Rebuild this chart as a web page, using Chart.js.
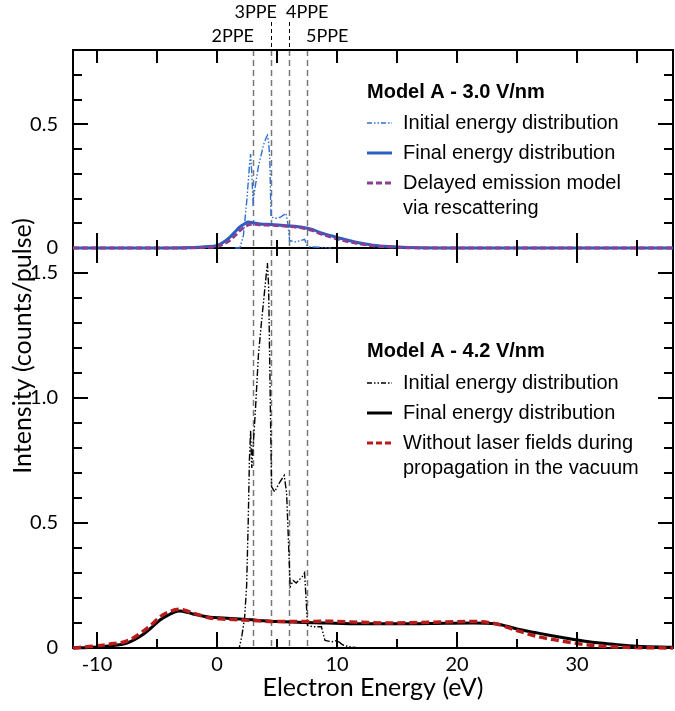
<!DOCTYPE html>
<html>
<head>
<meta charset="utf-8">
<script src="https://cdn.jsdelivr.net/npm/chart.js@4.4.1/dist/chart.umd.min.js"></script>
<style>
  html, body { margin: 0; padding: 0; background: #fff; }
  #wrap { width: 675px; height: 711px; }
</style>
</head>
<body>
<div id="wrap"><canvas id="chart" width="675" height="711"></canvas></div>
<script>
// axis ranges and ticks
const xMin = -12, xMax = 38;
const xLabelTicks = [-10, 0, 10, 20, 30];
const xMinorTicks = [-10, -5, 0, 5, 10, 15, 20, 25, 30, 35];
const topMax = 0.8, botMax = 1.6;
const topLabelTicks = [0, 0.5];
const topMinorTicks = [0.1, 0.2, 0.3, 0.4, 0.6, 0.7];
const botLabelTicks = [0, 0.5, 1.0, 1.5];
const botMinorTicks = [0.1, 0.2, 0.3, 0.4, 0.6, 0.7, 0.8, 0.9, 1.1, 1.2, 1.3, 1.4];

// multiphoton orders (photon energy 1.5 eV)
const ppeLabels = ['2PPE', '3PPE', '4PPE', '5PPE'];
const ppeEnergy = [3.0, 4.5, 6.0, 7.5];

// top panel: Model A - 3.0 V/nm
const topInitX = [1.5, 1.9, 2.2, 2.5, 2.7, 2.8, 2.9, 3.0, 3.1, 3.45, 3.7, 3.9, 4.1, 4.2, 4.3, 4.4, 4.5, 4.9, 5.3, 5.6, 5.75, 5.9, 6.05, 6.5, 7.0, 7.3, 7.5, 7.7, 8.5, 9.5];
const topInitY = [0, 0, 0.05, 0.2, 0.33, 0.38, 0.3, 0.19, 0.22, 0.33, 0.38, 0.42, 0.445, 0.455, 0.43, 0.36, 0.125, 0.12, 0.125, 0.135, 0.14, 0.1, 0.03, 0.025, 0.03, 0.035, 0.01, 0.005, 0.003, 0];
const topFinalX = [-12, -4, -2, -1, 0, 0.5, 1.1, 1.5, 1.9, 2.3, 2.6, 3.0, 3.6, 4.5, 5.8, 7.2, 8.0, 8.6, 9.3, 10, 11, 11.9, 13, 14.7, 16, 20, 38];
const topFinalY = [0, 0, 0.002, 0.005, 0.01, 0.022, 0.045, 0.065, 0.085, 0.098, 0.105, 0.102, 0.097, 0.095, 0.09, 0.083, 0.074, 0.062, 0.052, 0.043, 0.03, 0.02, 0.011, 0.005, 0.002, 0, 0];
const topDelayX = [-12, -4, -2, -1, 0, 0.5, 1.1, 1.5, 1.9, 2.3, 2.7, 3.0, 3.6, 4.5, 5.8, 7.2, 8.0, 8.6, 9.3, 10, 11, 12, 13, 14.7, 16, 20, 38];
const topDelayY = [0, 0, 0.001, 0.003, 0.006, 0.015, 0.032, 0.05, 0.07, 0.085, 0.095, 0.096, 0.094, 0.092, 0.088, 0.08, 0.07, 0.058, 0.047, 0.037, 0.025, 0.016, 0.009, 0.004, 0.001, 0, 0];

// bottom panel: Model A - 4.2 V/nm
const botInitX = [1.5, 1.85, 2.06, 2.3, 2.47, 2.6, 2.7, 2.8, 2.9, 3.0, 3.2, 3.45, 3.7, 3.95, 4.2, 4.3, 4.5, 4.55, 4.8, 5.25, 5.6, 5.8, 6.1, 6.35, 6.6, 7.2, 7.3, 7.55, 8.0, 8.7, 9.0, 9.6, 10.0, 10.5, 11, 12];
const botInitY = [0, 0, 0.045, 0.12, 0.25, 0.5, 0.75, 0.87, 0.72, 0.8, 0.95, 1.17, 1.3, 1.42, 1.54, 1.45, 0.79, 0.645, 0.625, 0.665, 0.69, 0.62, 0.245, 0.27, 0.26, 0.29, 0.3, 0.09, 0.085, 0.085, 0.03, 0.025, 0.03, 0.012, 0.005, 0];
const botFinalX = [-12, -10.3, -9, -7.5, -6.2, -5.5, -4.75, -4, -3.6, -3.1, -2.5, -2.0, -1.2, -0.6, 0.5, 2.2, 5, 9.1, 11.9, 16, 19, 21.4, 23.2, 25, 26.5, 27.8, 29, 30.3, 31.5, 32.8, 35, 38];
const botFinalY = [0, 0.003, 0.008, 0.02, 0.053, 0.08, 0.112, 0.133, 0.143, 0.148, 0.143, 0.136, 0.128, 0.123, 0.12, 0.115, 0.106, 0.1, 0.097, 0.097, 0.099, 0.1, 0.097, 0.076, 0.062, 0.05, 0.04, 0.03, 0.022, 0.016, 0.007, 0.003];
const botNoLaserX = [-12, -10.3, -9, -7.5, -6.2, -5.3, -4.75, -4.0, -3.1, -2.5, -2.0, -1.2, -0.6, 0.5, 2.2, 5, 7, 9.1, 11.9, 14.2, 18, 21.4, 23.2, 25, 26.7, 28.5, 30.3, 32, 34, 36, 38];
const botNoLaserY = [0, 0.007, 0.015, 0.028, 0.065, 0.1, 0.125, 0.145, 0.155, 0.148, 0.14, 0.128, 0.12, 0.116, 0.112, 0.106, 0.106, 0.107, 0.103, 0.1, 0.103, 0.106, 0.097, 0.07, 0.046, 0.03, 0.016, 0.007, 0.003, 0.001, 0];

const BLUE = '#2a5fc0', BLUE_LIGHT = '#2f6fd4', PURPLE = '#8a3f92', RED = '#b81b1b';
const DASHDOT = [7, 2, 1.5, 2, 1.5, 2];
const AXIS_FONT = "Lato, 'Liberation Sans', sans-serif";
const LEG_FONT = "'Liberation Sans', Arial, sans-serif";

function pts(xs, ys) {
  return xs.map((x, i) => ({ x: x, y: ys[i] }));
}

function line(label, xs, ys, axis, color, width, dash, smooth) {
  return {
    label: label,
    data: pts(xs, ys),
    yAxisID: axis,
    borderColor: color,
    borderWidth: width,
    borderDash: dash,
    pointRadius: 0,
    fill: false,
    clip: false,
    cubicInterpolationMode: smooth ? 'monotone' : 'default',
    tension: 0
  };
}

const legends = [
  { x: 367, y: 92, title: 'Model A - 3.0 V/nm', items: [
    { lines: ['Initial energy distribution'], color: BLUE_LIGHT, width: 1.5, dash: [5, 2, 1.5, 2, 1.5, 2], y: 123 },
    { lines: ['Final energy distribution'], color: BLUE, width: 3, dash: [], y: 153 },
    { lines: ['Delayed emission model', 'via rescattering'], color: PURPLE, width: 3, dash: [6, 3], y: 183 }
  ]},
  { x: 367, y: 351, title: 'Model A - 4.2 V/nm', items: [
    { lines: ['Initial energy distribution'], color: '#000', width: 1.5, dash: [5, 2, 1.5, 2, 1.5, 2], y: 383 },
    { lines: ['Final energy distribution'], color: '#000', width: 3, dash: [], y: 413 },
    { lines: ['Without laser fields during', 'propagation in the vacuum'], color: RED, width: 3, dash: [6, 3], y: 443 }
  ]}
];

function seg(ctx, x1, y1, x2, y2) {
  ctx.beginPath();
  ctx.moveTo(x1, y1);
  ctx.lineTo(x2, y2);
  ctx.stroke();
}

const framePlugin = {
  id: 'frame',
  beforeDatasetsDraw(chart) {
    const ctx = chart.ctx, a = chart.chartArea;
    const xs = chart.scales.x, yt = chart.scales.yTop;
    const mid = yt.bottom;
    ctx.save();
    // photon order lines
    ctx.strokeStyle = '#777';
    ctx.lineWidth = 1.5;
    ctx.setLineDash([6, 4]);
    ppeEnergy.forEach(e => {
      const px = Math.round(xs.getPixelForValue(e)) + 0.5;
      seg(ctx, px, a.top, px, a.bottom);
    });
    ctx.strokeStyle = '#000';
    ctx.lineWidth = 1;
    ctx.setLineDash([4, 3]);
    [1, 2].forEach(i => {
      const px = Math.round(xs.getPixelForValue(ppeEnergy[i])) + 0.5;
      seg(ctx, px, 22, px, a.top);
    });
    ctx.setLineDash([]);
    ctx.fillStyle = '#000';
    ctx.font = '18px ' + AXIS_FONT;
    ctx.textBaseline = 'middle';
    const lx = ppeEnergy.map(e => xs.getPixelForValue(e));
    ctx.textAlign = 'right';
    ctx.fillText(ppeLabels[0], lx[0] + 1, 36);
    ctx.fillText(ppeLabels[1], lx[1] + 6, 12);
    ctx.textAlign = 'left';
    ctx.fillText(ppeLabels[2], lx[2] - 3, 12);
    ctx.fillText(ppeLabels[3], lx[3] - 1, 36);

    // frame
    ctx.strokeStyle = '#000';
    ctx.lineWidth = 2;
    ctx.strokeRect(a.left, a.top, a.right - a.left, a.bottom - a.top);
    seg(ctx, a.left, mid, a.right, mid);
    ctx.restore();
  },
  afterDatasetsDraw(chart) {
    const ctx = chart.ctx, a = chart.chartArea;
    const xs = chart.scales.x, yt = chart.scales.yTop, yb = chart.scales.yBot;
    const mid = yt.bottom;
    ctx.save();
    ctx.setLineDash([]);
    ctx.strokeStyle = '#000';
    ctx.lineWidth = 2;
    // x tick marks, inward
    for (const v of xMinorTicks) {
      const px = Math.round(xs.getPixelForValue(v));
      const major = Math.abs(v) % 10 === 0;
      const m = major ? 15 : 8;
      seg(ctx, px, a.top, px, a.top + 13);
      seg(ctx, px, mid - m, px, mid + m);
      seg(ctx, px, a.bottom, px, a.bottom - (major ? 16 : 9));
    }
    // y tick marks, inward on both sides
    const yMarks = [
      [yt, topLabelTicks.filter(v => v > 0), 15],
      [yt, topMinorTicks, 9],
      [yb, botLabelTicks.filter(v => v > 0), 15],
      [yb, botMinorTicks, 9]
    ];
    for (const [scale, values, len] of yMarks) {
      for (const v of values) {
        const py = Math.round(scale.getPixelForValue(v));
        seg(ctx, a.left, py, a.left + len, py);
        seg(ctx, a.right, py, a.right - len, py);
      }
    }

    // shared y title
    ctx.fillStyle = '#000';
    ctx.font = '25px ' + AXIS_FONT;
    ctx.textAlign = 'center';
    ctx.textBaseline = 'middle';
    ctx.translate(23, 346);
    ctx.rotate(-Math.PI / 2);
    ctx.fillText('Intensity (counts/pulse)', 0, 0);
    ctx.restore();

    // legends
    legends.forEach(lg => {
      ctx.save();
      ctx.fillStyle = '#000';
      ctx.textBaseline = 'middle';
      ctx.textAlign = 'left';
      ctx.font = 'bold 20px ' + LEG_FONT;
      ctx.fillText(lg.title, lg.x, lg.y);
      ctx.font = '20px ' + LEG_FONT;
      lg.items.forEach(it => {
        ctx.strokeStyle = it.color;
        ctx.lineWidth = it.width;
        ctx.setLineDash(it.dash);
        seg(ctx, lg.x, it.y, lg.x + 25, it.y);
        it.lines.forEach((t, k) => ctx.fillText(t, lg.x + 36, it.y + k * 25));
      });
      ctx.restore();
    });
  }
};

function fixedTicks(values) {
  return scale => { scale.ticks = values.map(v => ({ value: v })); };
}

const tickLabel = v => v === 0 ? '0' : v.toFixed(1);

new Chart(document.getElementById('chart'), {
  type: 'line',
  data: {
    datasets: [
      line('Delayed emission model via rescattering', topDelayX, topDelayY, 'yTop', PURPLE, 3, [6, 3], true),
      line('Final energy distribution (3.0 V/nm)', topFinalX, topFinalY, 'yTop', BLUE, 3, [], true),
      line('Initial energy distribution (3.0 V/nm)', topInitX, topInitY, 'yTop', BLUE_LIGHT, 1.4, DASHDOT, false),
      line('Without laser fields during propagation in the vacuum', botNoLaserX, botNoLaserY, 'yBot', RED, 3.5, [8, 4], true),
      line('Final energy distribution (4.2 V/nm)', botFinalX, botFinalY, 'yBot', '#000', 3, [], true),
      line('Initial energy distribution (4.2 V/nm)', botInitX, botInitY, 'yBot', '#000', 1.4, DASHDOT, false)
    ]
  },
  options: {
    responsive: false,
    animation: false,
    layout: { padding: { top: 50, right: 2, left: 0, bottom: 0 } },
    plugins: {
      legend: { display: false },
      tooltip: { enabled: false }
    },
    scales: {
      x: {
        type: 'linear',
        position: 'bottom',
        min: xMin,
        max: xMax,
        afterBuildTicks: fixedTicks(xLabelTicks),
        afterFit: s => { s.height = 63; },
        grid: { display: false, drawTicks: false },
        border: { display: false },
        ticks: { color: '#000', padding: 5, maxRotation: 0, font: { family: AXIS_FONT, size: 20 }, callback: v => String(v) },
        title: { display: true, text: 'Electron Energy (eV)', color: '#000', font: { family: AXIS_FONT, size: 25 }, padding: { top: 0, bottom: 8 } }
      },
      yBot: {
        type: 'linear',
        position: 'left',
        stack: 'panels',
        stackWeight: 400,
        weight: 1,
        min: 0,
        max: botMax,
        afterBuildTicks: fixedTicks(botLabelTicks),
        afterFit: s => { s.width = 73; },
        grid: { display: false, drawTicks: false },
        border: { display: false },
        ticks: { color: '#000', padding: 15, font: { family: AXIS_FONT, size: 20 }, callback: tickLabel }
      },
      yTop: {
        type: 'linear',
        position: 'left',
        stack: 'panels',
        stackWeight: 198,
        weight: 2,
        min: 0,
        max: topMax,
        afterBuildTicks: fixedTicks(topLabelTicks),
        afterFit: s => { s.width = 73; },
        grid: { display: false, drawTicks: false },
        border: { display: false },
        ticks: { color: '#000', padding: 15, font: { family: AXIS_FONT, size: 20 }, callback: tickLabel }
      }
    }
  },
  plugins: [framePlugin]
});
</script>
</body>
</html>
